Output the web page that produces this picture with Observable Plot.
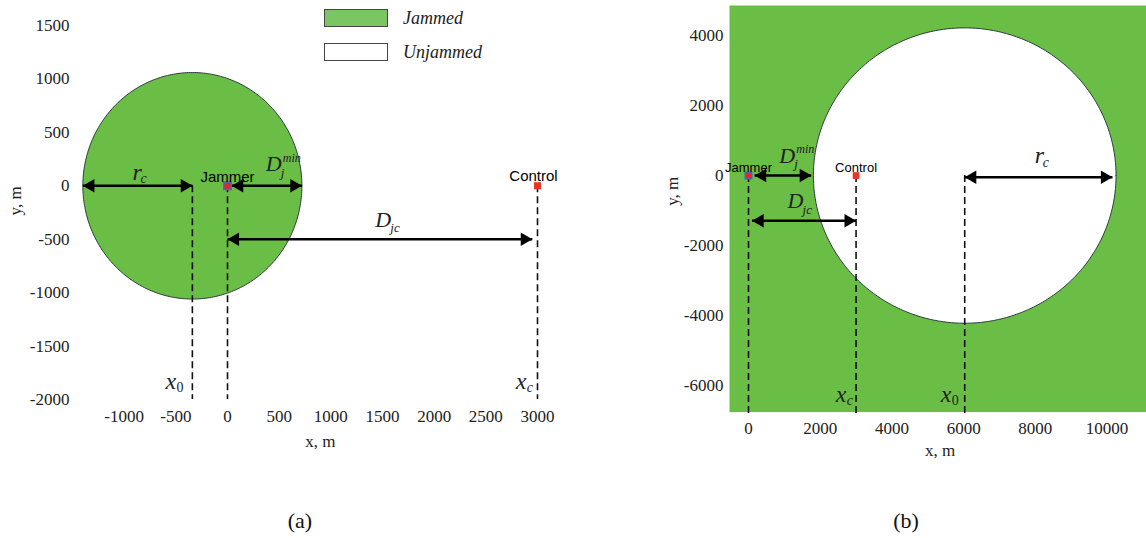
<!DOCTYPE html>
<html>
<head>
<meta charset="utf-8">
<script src="https://cdn.jsdelivr.net/npm/d3@7"></script>
<script src="https://cdn.jsdelivr.net/npm/@observablehq/plot@0.6"></script>
<style>
  body { margin: 0; background: #fff; }
  #wrap { position: relative; width: 1146px; height: 538px; overflow: hidden; font-family: "Liberation Serif", serif; background: #fff; }
  .panel { position: absolute; top: 0; }
  #pa { left: 0; }
  #pb { left: 640px; }
  .legend { position: absolute; left: 324px; z-index: 2; display: flex; align-items: center; }
  .legend .sw { width: 62px; height: 16px; border: 1px solid #444; box-sizing: content-box; }
  .legend .lab { margin-left: 15px; font-style: italic; font-size: 18px; color: #222; line-height: 18px; }
  .cap { position: absolute; top: 508px; font-size: 22px; width: 60px; text-align: center; color: #111; }
</style>
</head>
<body>
<div id="wrap">
  <div class="panel" id="pa"></div>
  <div class="panel" id="pb"></div>
  <div id="legend"></div>
  <div class="cap" style="left:270px">(a)</div>
  <div class="cap" style="left:876px">(b)</div>
</div>
<script>
// ---------- data ----------
const legendItems = ["Jammed", "Unjammed"];

// panel (a)
const xTicksA = [-1000, -500, 0, 500, 1000, 1500, 2000, 2500, 3000];
const yTicksA = [-2000, -1500, -1000, -500, 0, 500, 1000, 1500];
const nodesA = [{name: "Jammer", x: 0, y: 0}, {name: "Control", x: 3000, y: 0}];
const zoneA = {cx: -340, cy: 0, r: 1060};
const guidesA = [{x: -340, y1: 0, y2: -2000}, {x: 0, y1: 0, y2: -2000}, {x: 3000, y1: 0, y2: -2000}];
const arrowsA = [{x1: -1400, x2: -340, y: 0}, {x1: 40, x2: 720, y: 0}, {x1: 0, x2: 2950, y: -500}];
const symbolsA = [
  {base: "r", sub: "c", sup: "", x: -920, y: 130},
  {base: "D", sub: "j", sup: "min", x: 370, y: 200},
  {base: "D", sub: "jc", sup: "", x: 1430, y: -320},
  {base: "x", sub: "0", sup: "", x: -600, y: -1830},
  {base: "x", sub: "c", sup: "", x: 2790, y: -1830}
];

// panel (b)
const xTicksB = [0, 2000, 4000, 6000, 8000, 10000];
const yTicksB = [-6000, -4000, -2000, 0, 2000, 4000];
const nodesB = [{name: "Jammer", x: 0, y: 0}, {name: "Control", x: 3000, y: 0}];
const zoneB = {cx: 6030, cy: 0, r: 4220};
const guidesB = [{x: 0, y1: 0, y2: -6850}, {x: 3000, y1: 0, y2: -6850}, {x: 6030, y1: 0, y2: -6850}];
const arrowsB = [{x1: 170, x2: 1750, y: 0}, {x1: 100, x2: 3000, y: -1290}, {x1: 6030, x2: 10150, y: -50}];
const symbolsB = [
  {base: "D", sub: "j", sup: "min", x: 860, y: 570},
  {base: "D", sub: "jc", sup: "", x: 1090, y: -740},
  {base: "r", sub: "c", sup: "", x: 7980, y: 570},
  {base: "x", sub: "c", sup: "", x: 2430, y: -6260},
  {base: "x", sub: "0", sup: "", x: 5360, y: -6260}
];

// ---------- styling ----------
const GREEN = "#6abd45";
const LEG_GREEN = "#7cc563";
const SERIF = "Liberation Serif";
const SANS = "Liberation Sans";
const TICK = {fontFamily: SERIF, fontSize: 17, fill: "#222"};

function ring(z) {
  const n = 360, pts = [];
  for (let i = 0; i <= n; i++) {
    const t = (i / n) * 2 * Math.PI;
    pts.push({x: z.cx + z.r * Math.cos(t), y: z.cy + z.r * Math.sin(t)});
  }
  return pts;
}

function annotationMarks(arrows, guides, symbols) {
  const leftHeads = arrows.map(a => ({x: a.x1, y: a.y}));
  const rightHeads = arrows.map(a => ({x: a.x2, y: a.y}));
  const ital = {fontFamily: SERIF, fontStyle: "italic", fill: "#222"};
  const isDigit = s => /^\d+$/.test(s.sub);
  return [
    Plot.ruleX(guides, {x: "x", y1: "y1", y2: "y2", stroke: "#111", strokeWidth: 1.6, strokeDasharray: "7,4"}),
    Plot.link(arrows, {x1: "x1", x2: "x2", y1: "y", y2: "y", stroke: "#000", strokeWidth: 2.4}),
    Plot.dot(leftHeads, {x: "x", y: "y", symbol: "triangle", r: 5, fill: "#000", rotate: -90, dx: 7.7}),
    Plot.dot(rightHeads, {x: "x", y: "y", symbol: "triangle", r: 5, fill: "#000", rotate: 90, dx: -7.7}),
    // base letters
    Plot.text(symbols.filter(s => s.base === "D"), {x: "x", y: "y", text: "base", textAnchor: "start", fontSize: 22, ...ital}),
    Plot.text(symbols.filter(s => s.base !== "D"), {x: "x", y: "y", text: "base", textAnchor: "start", fontSize: 24, ...ital}),
    // subscripts
    Plot.text(symbols.filter(s => s.base === "D"), {x: "x", y: "y", text: "sub", textAnchor: "start", fontSize: 13, dx: 15, dy: 8, ...ital}),
    Plot.text(symbols.filter(s => s.base === "r"), {x: "x", y: "y", text: "sub", textAnchor: "start", fontSize: 14, dx: 8, dy: 7, ...ital}),
    Plot.text(symbols.filter(s => s.base === "x" && !isDigit(s)), {x: "x", y: "y", text: "sub", textAnchor: "start", fontSize: 14, dx: 11, dy: 6, ...ital}),
    Plot.text(symbols.filter(s => s.base === "x" && isDigit(s)), {x: "x", y: "y", text: "sub", textAnchor: "start", fontSize: 14, dx: 11, dy: 6, fontFamily: SERIF, fill: "#222"}),
    // superscripts
    Plot.text(symbols.filter(s => s.sup), {x: "x", y: "y", text: "sup", textAnchor: "start", fontSize: 12, dx: 17, dy: -6, ...ital})
  ];
}

// ---------- panel (a) ----------
const plotA = Plot.plot({
  width: 580, height: 460,
  marginLeft: 72, marginRight: 22.33, marginTop: 25, marginBottom: 61,
  style: {fontFamily: SERIF, fontSize: "17px", color: "#222", background: "transparent"},
  x: {domain: [-1500, 3200]},
  y: {domain: [-2000, 1500]},
  marks: [
    Plot.axisX({ticks: xTicksA, tickSize: 0, tickPadding: 10, tickFormat: d => String(d), label: null, ...TICK}),
    Plot.axisY({ticks: yTicksA, tickSize: 0, tickPadding: 3, tickFormat: d => String(d), label: null, ...TICK}),
    Plot.line(ring(zoneA), {x: "x", y: "y", fill: GREEN, stroke: "#1f2a33", strokeWidth: 0.9}),
    ...annotationMarks(arrowsA, guidesA, symbolsA),
    Plot.dot(nodesA.filter(d => d.name === "Jammer"), {x: "x", y: "y", symbol: "square", r: 4.2, fill: "#e4262a", stroke: "#3a6cc8", strokeWidth: 1.4}),
    Plot.dot(nodesA.filter(d => d.name === "Control"), {x: "x", y: "y", symbol: "square", r: 4.0, fill: "#e8351f"}),
    Plot.text(nodesA.filter(d => d.name === "Jammer"), {x: "x", y: "y", text: "name", fontFamily: SANS, fontSize: 15, fill: "#000", dy: -9}),
    Plot.text(nodesA.filter(d => d.name === "Control"), {x: "x", y: "y", text: "name", fontFamily: SANS, fontSize: 15, fill: "#000", dy: -10, dx: -4}),
    Plot.text(["y, m"], {frameAnchor: "left", rotate: -90, dx: -57, dy: 3, fontSize: 17, fontFamily: SERIF, fill: "#222"}),
    Plot.text(["x, m"], {frameAnchor: "bottom", dx: 5, dy: 47, fontSize: 17, fontFamily: SERIF, fill: "#222"})
  ]
});
document.getElementById("pa").appendChild(plotA);

// ---------- panel (b) ----------
const plotB = Plot.plot({
  width: 506, height: 460,
  marginLeft: 89, marginRight: 0, marginTop: 5, marginBottom: 48.4,
  style: {fontFamily: SERIF, fontSize: "17px", color: "#222", background: "transparent"},
  x: {domain: [-530, 11100]},
  y: {domain: [-6760, 4860]},
  marks: [
    Plot.frame({fill: GREEN, stroke: "none"}),
    Plot.axisX({ticks: xTicksB, tickSize: 0, tickPadding: 10, tickFormat: d => String(d), label: null, ...TICK}),
    Plot.axisY({ticks: yTicksB, tickSize: 0, tickPadding: 6, tickFormat: d => String(d), label: null, ...TICK}),
    Plot.line(ring(zoneB), {x: "x", y: "y", fill: "#fff", stroke: "#1f2a33", strokeWidth: 0.9}),
    ...annotationMarks(arrowsB, guidesB, symbolsB),
    Plot.dot(nodesB.filter(d => d.name === "Jammer"), {x: "x", y: "y", symbol: "square", r: 3.8, fill: "#e4262a", stroke: "#3a6cc8", strokeWidth: 1.3}),
    Plot.dot(nodesB.filter(d => d.name === "Control"), {x: "x", y: "y", symbol: "square", r: 3.8, fill: "#e8351f"}),
    Plot.text(nodesB, {x: "x", y: "y", text: "name", fontFamily: SANS, fontSize: 13, fill: "#000", dy: -7.5}),
    Plot.text(["y, m"], {frameAnchor: "left", rotate: -90, dx: -57, dy: -3, fontSize: 17, fontFamily: SERIF, fill: "#222"}),
    Plot.text(["x, m"], {frameAnchor: "bottom", dx: 2, dy: 44, fontSize: 17, fontFamily: SERIF, fill: "#222"})
  ]
});
document.getElementById("pb").appendChild(plotB);

// ---------- legend ----------
const legendFill = {Jammed: LEG_GREEN, Unjammed: "#fff"};
const legendTop = {Jammed: 9, Unjammed: 43};
const lg = document.getElementById("legend");
legendItems.forEach(name => {
  const row = document.createElement("div");
  row.className = "legend";
  row.style.top = legendTop[name] + "px";
  const sw = document.createElement("div");
  sw.className = "sw";
  sw.style.background = legendFill[name];
  const lab = document.createElement("div");
  lab.className = "lab";
  lab.textContent = name;
  row.appendChild(sw); row.appendChild(lab);
  lg.appendChild(row);
});
</script>
</body>
</html>
